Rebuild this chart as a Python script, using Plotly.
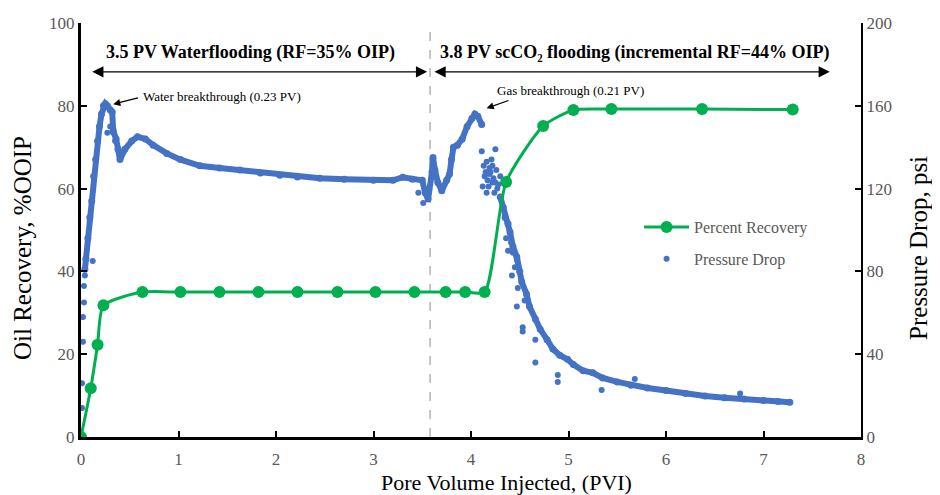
import plotly.graph_objects as go

# ---------------- data ----------------
rec_x = [0.00, 0.10, 0.17, 0.23, 0.63, 1.02, 1.42, 1.82, 2.22, 2.63, 3.02, 3.42,
         3.74, 3.94, 4.14, 4.36, 4.74, 5.05, 5.44, 6.37, 7.30]
rec_y = [0.0, 11.8, 22.3, 31.8, 35.0, 35.0, 35.0, 35.0, 35.0, 35.0, 35.0, 35.0,
         35.0, 35.0, 35.0, 61.6, 75.1, 79.0, 79.2, 79.2, 79.1]

# pressure drop: main trend band during waterflood + scCO2 start
band1_x = [0.04, 0.05, 0.07, 0.09, 0.11, 0.13, 0.15, 0.17, 0.19, 0.21, 0.23, 0.25,
           0.27, 0.30, 0.32, 0.33, 0.36, 0.38, 0.40, 0.45, 0.52, 0.58, 0.66, 0.74,
           0.88, 1.02, 1.22, 1.42, 1.63, 1.84, 2.04, 2.22, 2.45, 2.70, 3.00, 3.20,
           3.30, 3.40, 3.50, 3.53, 3.56, 3.60, 3.61, 3.63, 3.66, 3.70, 3.75, 3.78,
           3.80, 3.82, 3.86, 3.91, 3.96, 4.01, 4.04, 4.07, 4.11]
band1_p = [81, 86, 96, 106, 114, 126, 134, 143, 150, 156, 160, 161,
           160, 158, 157, 148, 144, 139, 134, 139, 143, 145, 144, 141,
           137, 134, 131, 130, 129, 127.5, 126.5, 125.6, 125, 124.5, 124, 124,
           125.5, 124.5, 124, 118, 115, 128, 135, 129, 123, 119, 124, 127,
           134, 140, 141, 144, 150, 154, 156, 155, 151]

# pressure drop: decline after gas breakthrough
band2_x = [4.30, 4.33, 4.35, 4.38, 4.40, 4.43, 4.47, 4.50, 4.52, 4.57, 4.60, 4.66,
           4.71, 4.78, 4.84, 4.91, 4.99, 5.05, 5.15, 5.25, 5.35, 5.50, 5.64, 5.81,
           6.00, 6.20, 6.40, 6.60, 6.80, 7.00, 7.15, 7.27]
band2_p = [116, 111, 106, 103, 99, 92, 87, 80, 75, 69, 63, 57,
           52, 47, 42.5, 39.5, 37.5, 35, 32, 31, 28.5, 26.6, 25, 23.7,
           22.5, 21, 19.8, 19, 18.3, 17.6, 17.2, 16.8]

# pressure drop: scattered individual readings
pts_x = [0.00, 0.01, 0.01, 0.02, 0.02, 0.03, 0.03, 0.04, 0.12,
         0.27, 0.30, 0.33, 0.33, 0.35,
         3.46, 3.51,
         4.11, 4.25, 4.16, 4.19, 4.14, 4.22, 4.16, 4.27, 4.30, 4.20, 4.23, 4.18, 4.24,
         4.13, 4.15, 4.17, 4.21, 4.26, 4.28, 4.12, 4.19, 4.22, 4.25,
         4.42, 4.38, 4.43, 4.47, 4.45, 4.48, 4.36, 4.41, 4.55,
         4.47, 4.53, 4.53, 4.66, 4.66, 4.89, 4.89, 5.34, 5.68, 6.76]
pts_p = [1, 14, 26, 46, 58, 65, 73, 78, 85,
         147, 150, 149, 147, 143,
         118, 113,
         138, 139, 133, 130, 126, 123, 118, 120, 126, 128, 125, 121, 118,
         131, 128, 124, 134, 129, 122, 121, 127, 131, 123,
         78, 90, 89, 85.5, 82, 72, 96, 94, 66,
         63, 53, 51, 47, 36, 30, 26.6, 22.7, 28, 21]

x_ticks = [0, 1, 2, 3, 4, 5, 6, 7, 8]
left_ticks = [0, 20, 40, 60, 80, 100]
right_ticks = [0, 40, 80, 120, 160, 200]
switch_pv = 3.58

x_title = "Pore Volume Injected, (PVI)"
y_title = "Oil Recovery, %OOIP"
y2_title = "Pressure Drop, psi"

# ---------------- styling ----------------
FONT = "Liberation Serif"
GREEN = "#00B050"
BLUE = "#4472C4"
GREY = "#595959"

fig = go.Figure()

# dashed divider (also anchors the left axis)
fig.add_trace(go.Scatter(x=[switch_pv, switch_pv], y=[0, 100], mode="lines",
                         line=dict(color="#8c8c8c", width=1, dash="dash"),
                         showlegend=False, hoverinfo="skip", xaxis="x", yaxis="y"))

band_x = band1_x + [None] + band2_x
band_p = band1_p + [None] + band2_p
fig.add_trace(go.Scatter(x=band_x, y=band_p, mode="lines+markers",
                         line=dict(color=BLUE, width=6),
                         marker=dict(color=BLUE, size=7),
                         showlegend=False, xaxis="x", yaxis="y2"))
fig.add_trace(go.Scatter(x=pts_x, y=pts_p, mode="markers", name="Pressure Drop",
                         marker=dict(color=BLUE, size=6),
                         legendrank=2, legendgroup="b", xaxis="x", yaxis="y2"))

fig.add_trace(go.Scatter(x=rec_x, y=rec_y, mode="lines+markers", name="Percent Recovery",
                         line=dict(color=GREEN, width=3, shape="spline", smoothing=0.6),
                         marker=dict(color=GREEN, size=12),
                         legendrank=1, legendgroup="a", xaxis="x", yaxis="y3"))

annotations = [
    dict(x=3.55, y=88.2, ax=0.10, ay=88.2),
    dict(x=7.68, y=88.2, ax=3.61, ay=88.2),
]
ann = []
for a in annotations:
    ann.append(dict(xref="x", yref="y", axref="x", ayref="y", text="", showarrow=True,
                    arrowhead=2, startarrowhead=2, arrowside="end+start",
                    arrowsize=1.6, startarrowsize=1.6, arrowwidth=1.4,
                    arrowcolor="black", **a))
ann += [
    dict(x=1.74, y=92.8, xref="x", yref="y", showarrow=False,
         text="<b>3.5 PV Waterflooding (RF=35% OIP)</b>",
         font=dict(family=FONT, size=18, color="black")),
    dict(x=5.68, y=92.8, xref="x", yref="y", showarrow=False,
         text="<b>3.8 PV scCO₂ flooding (incremental RF=44% OIP)</b>",
         font=dict(family=FONT, size=18, color="black")),
    dict(x=0.62, y=82.3, xref="x", yref="y", showarrow=False, xanchor="left",
         text="Water breakthrough (0.23 PV)",
         font=dict(family=FONT, size=13, color="black")),
    dict(x=0.33, y=80.4, ax=0.60, ay=82.0, xref="x", yref="y", axref="x", ayref="y",
         text="", showarrow=True, arrowhead=2, arrowsize=1.2, arrowwidth=1.2, arrowcolor="black"),
    dict(x=4.25, y=83.6, xref="x", yref="y", showarrow=False, xanchor="left",
         text="Gas breakthrough (0.21 PV)",
         font=dict(family=FONT, size=13, color="black")),
    dict(x=4.16, y=79.4, ax=4.40, ay=81.4, xref="x", yref="y", axref="x", ayref="y",
         text="", showarrow=True, arrowhead=2, arrowsize=1.2, arrowwidth=1.2, arrowcolor="black"),
    # axis titles (offset from the axis centre as in the reference)
    dict(x=0.545, y=-0.111, xref="paper", yref="paper", showarrow=False,
         xanchor="center", yanchor="middle",
         text=x_title, font=dict(family=FONT, size=22, color="black")),
    dict(x=-0.0756, y=0.4565, xref="paper", yref="paper", showarrow=False, textangle=-90,
         xanchor="center", yanchor="middle",
         text=y_title, font=dict(family=FONT, size=25, color="black")),
    dict(x=1.073, y=0.4565, xref="paper", yref="paper", showarrow=False, textangle=-90,
         xanchor="center", yanchor="middle",
         text=y2_title, font=dict(family=FONT, size=25, color="black")),
]

# the page body adds an 8px offset, so margins are set to land the plot area
# at the reference position in the 940x495 window
fig.update_layout(
    width=940, height=495,
    margin=dict(l=73, r=87, t=15, b=66),
    paper_bgcolor="white", plot_bgcolor="white",
    font=dict(family=FONT, size=17, color=GREY),
    annotations=ann,
    xaxis=dict(range=[0, 8], tickvals=x_ticks, showgrid=False, zeroline=False,
               showline=True, linecolor="black", linewidth=3, automargin=False,
               ticks="inside", ticklen=6, tickwidth=1.5, tickcolor="black",
               ticklabelstandoff=5,
               tickfont=dict(family=FONT, size=17, color=GREY)),
    yaxis=dict(range=[0, 100], tickvals=left_ticks, showgrid=False, zeroline=False,
               showline=True, linecolor="black", linewidth=3, automargin=False,
               ticks="inside", ticklen=6, tickwidth=1.5, tickcolor="black",
               tickfont=dict(family=FONT, size=17, color=GREY)),
    yaxis2=dict(range=[0, 200], tickvals=right_ticks, overlaying="y", side="right",
                showgrid=False, zeroline=False, showline=True, linecolor="black",
                linewidth=2, ticks="inside", ticklen=6, tickwidth=1.5, tickcolor="black",
                automargin=False,
                tickfont=dict(family=FONT, size=17, color=GREY)),
    yaxis3=dict(range=[0, 100], overlaying="y", visible=False, automargin=False),
    legend=dict(x=0.7155, y=0.548, xanchor="left", yanchor="top",
                bgcolor="rgba(0,0,0,0)", traceorder="grouped", tracegroupgap=8,
                itemwidth=45, font=dict(family=FONT, size=16, color=GREY)),
)

fig.write_html("out.html")
